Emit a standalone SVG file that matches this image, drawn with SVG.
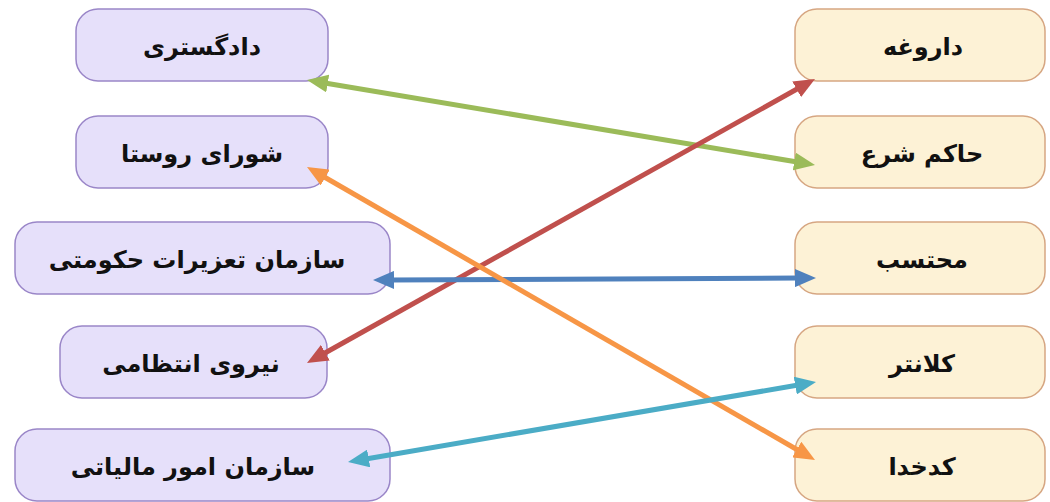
<svg xmlns="http://www.w3.org/2000/svg" width="1050" height="502" viewBox="0 0 1050 502">
  <style>
    .lbox{fill:#e6e0fa;stroke:#9a86c8;stroke-width:1.5}
    .rbox{fill:#fdf2d6;stroke:#d6a682;stroke-width:1.5}
    .t{font-family:"DejaVu Sans",sans-serif;font-weight:bold;font-size:24px;fill:#111;text-anchor:middle;direction:rtl}
    .c{fill:none;stroke-width:5}
  </style>
  <defs>
    <marker id="mg" markerUnits="userSpaceOnUse" viewBox="0 0 21 18" markerWidth="21" markerHeight="18" refX="3" refY="9" orient="auto-start-reverse"><path d="M0,0 L21,9 L0,18 z" fill="#9bbb59"/></marker>
    <marker id="mo" markerUnits="userSpaceOnUse" viewBox="0 0 21 18" markerWidth="21" markerHeight="18" refX="3" refY="9" orient="auto-start-reverse"><path d="M0,0 L21,9 L0,18 z" fill="#f79646"/></marker>
    <marker id="mr" markerUnits="userSpaceOnUse" viewBox="0 0 21 18" markerWidth="21" markerHeight="18" refX="3" refY="9" orient="auto-start-reverse"><path d="M0,0 L21,9 L0,18 z" fill="#c0504d"/></marker>
    <marker id="mb" markerUnits="userSpaceOnUse" viewBox="0 0 21 18" markerWidth="21" markerHeight="18" refX="3" refY="9" orient="auto-start-reverse"><path d="M0,0 L21,9 L0,18 z" fill="#4f81bd"/></marker>
    <marker id="mc" markerUnits="userSpaceOnUse" viewBox="0 0 21 18" markerWidth="21" markerHeight="18" refX="3" refY="9" orient="auto-start-reverse"><path d="M0,0 L21,9 L0,18 z" fill="#4bacc6"/></marker>
  </defs>

  <g id="n-dadgostari"><rect class="lbox" x="76" y="9" width="252" height="72" rx="22"/><text class="t" x="202" y="55">دادگستری</text></g>
  <g id="n-shora"><rect class="lbox" x="76" y="116" width="252" height="72" rx="22"/><text class="t" x="202" y="162">شورای روستا</text></g>
  <g id="n-tazirat"><rect class="lbox" x="15" y="222" width="375" height="72" rx="22"/><text class="t" x="197" y="268">سازمان تعزیرات حکومتی</text></g>
  <g id="n-entezami"><rect class="lbox" x="60" y="326" width="267" height="72" rx="22"/><text class="t" x="191" y="372">نیروی انتظامی</text></g>
  <g id="n-maliyat"><rect class="lbox" x="15" y="429" width="375" height="72" rx="22"/><text class="t" x="193" y="475">سازمان امور مالیاتی</text></g>

  <g id="n-darugheh"><rect class="rbox" x="795" y="9" width="250" height="72" rx="22"/><text class="t" x="923" y="55">داروغه</text></g>
  <g id="n-hakem"><rect class="rbox" x="795" y="116" width="250" height="72" rx="22"/><text class="t" x="922" y="162">حاکم شرع</text></g>
  <g id="n-mohtaseb"><rect class="rbox" x="795" y="222" width="250" height="72" rx="22"/><text class="t" x="922" y="268">محتسب</text></g>
  <g id="n-kalantar"><rect class="rbox" x="795" y="326" width="250" height="72" rx="22"/><text class="t" x="922" y="372">کلانتر</text></g>
  <g id="n-kadkhoda"><rect class="rbox" x="795" y="429" width="250" height="72" rx="22"/><text class="t" x="922" y="475">کدخدا</text></g>

  <g id="connectors">
    <line class="c" stroke="#9bbb59" x1="324.75" y1="82.97" x2="797.25" y2="162.03" marker-start="url(#mg)" marker-end="url(#mg)"/>
    <line class="c" stroke="#c0504d" x1="322.71" y1="354.22" x2="799.29" y2="87.78" marker-start="url(#mr)" marker-end="url(#mr)"/>
    <line class="c" stroke="#4f81bd" x1="391" y1="279.92" x2="798" y2="278.08" marker-start="url(#mb)" marker-end="url(#mb)"/>
    <line class="c" stroke="#f79646" x1="322.59" y1="175.99" x2="799.41" y2="451.01" marker-start="url(#mo)" marker-end="url(#mo)"/>
    <line class="c" stroke="#4bacc6" x1="365.74" y1="458.97" x2="798.26" y2="385.03" marker-start="url(#mc)" marker-end="url(#mc)"/>
  </g>
</svg>
